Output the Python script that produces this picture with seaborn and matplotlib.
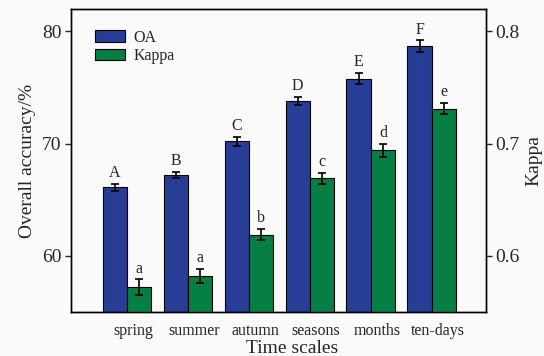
import numpy as np
import pandas as pd
import matplotlib
matplotlib.use("Agg")
import matplotlib.pyplot as plt
import seaborn as sns

# Classification accuracy at each time scale
categories = ["spring", "summer", "autumn", "seasons", "months", "ten-days"]
oa = [66.1, 67.2, 70.2, 73.8, 75.8, 78.7]
oa_err = [0.3, 0.3, 0.4, 0.38, 0.5, 0.5]
kappa = [0.572, 0.582, 0.619, 0.669, 0.694, 0.731]
kappa_err = [0.007, 0.0065, 0.005, 0.005, 0.006, 0.005]
oa_groups = ["A", "B", "C", "D", "E", "F"]
kappa_groups = ["a", "a", "b", "c", "d", "e"]

sns.set_style("ticks")
plt.rcParams["font.family"] = ["Liberation Serif", "DejaVu Serif"]

BLUE = "#283E96"
GREEN = "#067F44"
BG = "#fafafa"

idx = np.arange(len(categories))
bar_w = 0.4
df = pd.DataFrame({
    "category": categories,
    "x_oa": idx - bar_w / 2,
    "x_kappa": idx + bar_w / 2,
    "oa": oa,
    "kappa": kappa,
})

fig = plt.figure(figsize=(5.44, 3.56), dpi=100, facecolor=BG)
ax = fig.add_axes([71 / 544, 1 - 312 / 356, 415 / 544, 303 / 356])
ax.set_facecolor(BG)
ax2 = ax.twinx()

sns.barplot(data=df, x="x_oa", y="oa", native_scale=True, width=bar_w,
            color=BLUE, saturation=1, edgecolor="black", linewidth=0.8,
            errorbar=None, ax=ax, legend=False)
sns.barplot(data=df, x="x_kappa", y="kappa", native_scale=True, width=bar_w,
            color=GREEN, saturation=1, edgecolor="black", linewidth=0.8,
            errorbar=None, ax=ax2, legend=False)

err_kw = dict(fmt="none", ecolor="black", elinewidth=1.2, capsize=2.6,
              capthick=1.2, zorder=5)
ax.errorbar(df["x_oa"], df["oa"], yerr=oa_err, **err_kw)
ax2.errorbar(df["x_kappa"], df["kappa"], yerr=kappa_err, **err_kw)

# significance group letters above each error bar
for x, v, e, s in zip(df["x_oa"], oa, oa_err, oa_groups):
    ax.annotate(s, (x, v + e), xytext=(0, 2), textcoords="offset points",
                ha="center", va="bottom", fontsize=11.5)
for x, v, e, s in zip(df["x_kappa"], kappa, kappa_err, kappa_groups):
    ax2.annotate(s, (x, v + e), xytext=(0, 2), textcoords="offset points",
                 ha="center", va="bottom", fontsize=11.5)

ax.set_ylim(55, 82)
ax2.set_ylim(0.55, 0.82)
ax.set_yticks([60, 70, 80])
ax2.set_yticks([0.6, 0.7, 0.8])
ax2.set_yticklabels(["0.6", "0.7", "0.8"])
ax.set_xlim(-0.92, 5.89)
ax2.set_xlim(-0.92, 5.89)

ax.set_xticks(idx + 0.1)
ax.set_xticklabels(categories, fontsize=11.5)
ax.tick_params(axis="x", length=0, pad=8)
ax.tick_params(axis="y", direction="out", length=4, width=1, labelsize=14, pad=3)
ax2.tick_params(axis="y", direction="out", length=4, width=1, labelsize=14, pad=3)

ax.set_xlabel("Time scales", fontsize=14, va="top")
ax.xaxis.set_label_coords(0.534, -0.094)
ax.set_ylabel("Overall accuracy/%", fontsize=14)
ax2.set_ylabel("Kappa", fontsize=14)

for a in (ax, ax2):
    for sp in a.spines.values():
        sp.set_linewidth(1.0)
        sp.set_color("black")
        sp.set_visible(True)

ax2.set_zorder(ax.get_zorder() + 1)
ax2.patch.set_visible(False)

handles = [ax.containers[0], ax2.containers[0]]
ax2.legend(handles, ["OA", "Kappa"], loc="upper left",
           bbox_to_anchor=(0.058, 0.932), frameon=False, fontsize=11.5,
           handlelength=1.9, handleheight=0.75, handletextpad=0.5,
           labelspacing=0.15, borderpad=0, borderaxespad=0)

fig.savefig("out.png", dpi=100, facecolor=BG)
